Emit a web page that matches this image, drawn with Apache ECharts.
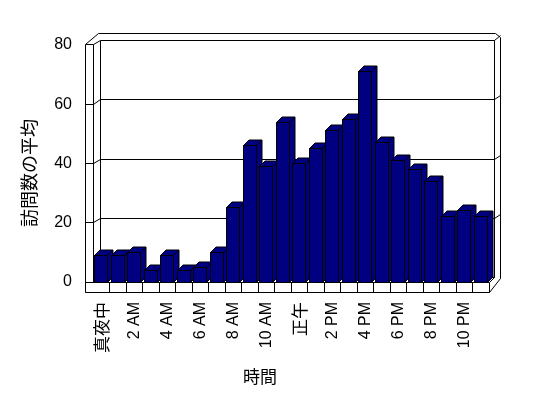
<!DOCTYPE html>
<html><head><meta charset="utf-8">
<script src="https://cdn.jsdelivr.net/npm/echarts@6/dist/echarts.min.js"></script>
<style>html,body{margin:0;padding:0;background:#fff}#c{width:548px;height:398px}</style>
</head><body><div id="c"></div><script>
// ---- data ----
const categories = ['真夜中','1 AM','2 AM','3 AM','4 AM','5 AM','6 AM','7 AM','8 AM','9 AM','10 AM','11 AM',
                    '正午','1 PM','2 PM','3 PM','4 PM','5 PM','6 PM','7 PM','8 PM','9 PM','10 PM','11 PM'];
const visits = [9,9,10,4,9,4,5,10,25,46,39,54,40,45,51,55,71,47,41,38,34,22,24,22];
const yTicks = [0,20,40,60,80];
const yTitle = '訪問数の平均';
const xTitle = '時間';

const yMin = yTicks[0], yMax = yTicks[yTicks.length-1], yStep = yTicks[1]-yTicks[0];
const s = v => Math.round(v - 0.5) + 0.5;
const LINE = {stroke:'#000', lineWidth:1, fill:'none'};

function frameItem(params, api) {
  const bw = api.size([1,0])[0];
  const L = api.coord([0,0])[0] - bw/2;
  const R = L + bw*categories.length;
  const y = v => api.coord([0, v])[1];
  const Y0 = y(yMin), YT = y(yMax);
  const ln = pts => ({type:'polyline', shape:{points:pts.map(p=>[s(p[0]), s(p[1])])}, style:LINE});
  const ch = [];
  const BK = 4.5;           // back wall vertical shift
  const BL = L + 7.5;       // back wall left
  const BR = R + 5;         // back wall right
  const OR = R + 11;        // outer right
  // floor front face
  const fx = s(L-8), fy = s(Y0);
  ch.push({type:'rect', shape:{x:fx, y:fy, width:Math.round(R-(L-8)), height:10}, style:{fill:'#fff', stroke:'#000', lineWidth:1}});
  for (let k=1;k<categories.length;k++) ch.push(ln([[L+k*bw, Y0],[L+k*bw, Y0+10]]));
  // left wall front strip
  ch.push(ln([[L-8, YT-1],[L-8, Y0+10]]));
  ch.push(ln([[L, YT-1],[L, Y0]]));
  ch.push(ln([[L-8, YT-1],[L, YT-1]]));
  // outer top
  ch.push(ln([[L-8, YT-1],[L+5, YT-11.5],[R+6.5, YT-11.5],[OR, YT-8],[OR, Y0-3.5]]));
  // inner top (80 line)
  ch.push(ln([[L, YT-1],[BL, YT-BK],[BR, YT-BK],[OR, YT-9.5]]));
  // back wall edges
  ch.push(ln([[BL, YT-BK],[BL, Y0-BK]]));
  ch.push(ln([[BR, YT-BK],[BR, Y0-BK]]));
  ch.push(ln([[BL, Y0-BK],[BR, Y0-BK],[R, Y0]]));
  ch.push(ln([[R, Y0+10],[OR, Y0-3.5]]));
  // gridlines
  yTicks.forEach(v => {
    if (v === yMin || v === yMax) return;
    const fy2 = y(v);
    ch.push(ln([[L-8, fy2],[L, fy2],[BL, fy2-BK],[BR, fy2-BK],[OR, fy2-BK-4]]));
  });
  return {type:'group', children:ch};
}

function barItem(params, api) {
  const idx = api.value(0), val = api.value(1);
  const bw = api.size([1,0])[0];
  const base = api.coord([idx, 0]);
  const top = api.coord([idx, val]);
  const x0 = s(base[0] - bw/2 + bw*0.12);
  const w = Math.round(bw*0.8);
  const yt = s(top[1]), yb = s(base[1]);
  const d = 5.5;
  const st = {fill:'#000080', stroke:'#000', lineWidth:1};
  return {type:'group', children:[
    {type:'polygon', shape:{points:[[x0+w,yt],[x0+w+d,yt-d],[x0+w+d,yb-d],[x0+w,yb]]}, style:st},
    {type:'polygon', shape:{points:[[x0,yt],[x0+d,yt-d],[x0+w+d,yt-d],[x0+w,yt]]}, style:st},
    {type:'rect', shape:{x:x0, y:yt, width:w, height:yb-yt}, style:st}
  ]};
}

const chart = echarts.init(document.getElementById('c'), null, {renderer:'canvas'});
chart.setOption({
  animation:false,
  backgroundColor:'#fff',
  grid:{left:93, top:45, width:396, height:237},
  xAxis:{
    type:'category', data:categories, boundaryGap:true,
    axisLine:{show:false}, axisTick:{show:false}, splitLine:{show:false},
    axisLabel:{
      interval:1, rotate:90, margin:20, color:'#000',
      fontFamily:'Liberation Sans, Arial, sans-serif', fontSize:16,
      formatter: v => /[^\x00-\x7F]/.test(v) ? '{c|'+v+'}' : v,
      rich:{c:{fontFamily:'Noto Sans CJK JP', fontSize:17, color:'#000'}}
    }
  },
  yAxis:{
    type:'value', min:yMin, max:yMax, interval:yStep,
    axisLine:{show:false}, axisTick:{show:false}, splitLine:{show:false},
    axisLabel:{margin:21, color:'#000', fontFamily:'Liberation Sans, Arial, sans-serif', fontSize:16}
  },
  graphic:[
    {type:'text', x:29, y:173, rotation:Math.PI/2, style:{text:yTitle, font:'18px "Noto Sans CJK JP"', fill:'#000', align:'center', verticalAlign:'middle'}},
    {type:'text', x:260, y:377, style:{text:xTitle, font:'17px "Noto Sans CJK JP"', fill:'#000', align:'center', verticalAlign:'middle'}}
  ],
  series:[
    {type:'custom', z:1, silent:true, clip:false, renderItem:frameItem, data:[[0,0]]},
    {type:'custom', z:2, silent:true, clip:false, renderItem:barItem, data:visits.map((v,i)=>[i,v])}
  ]
});
</script></body></html>
